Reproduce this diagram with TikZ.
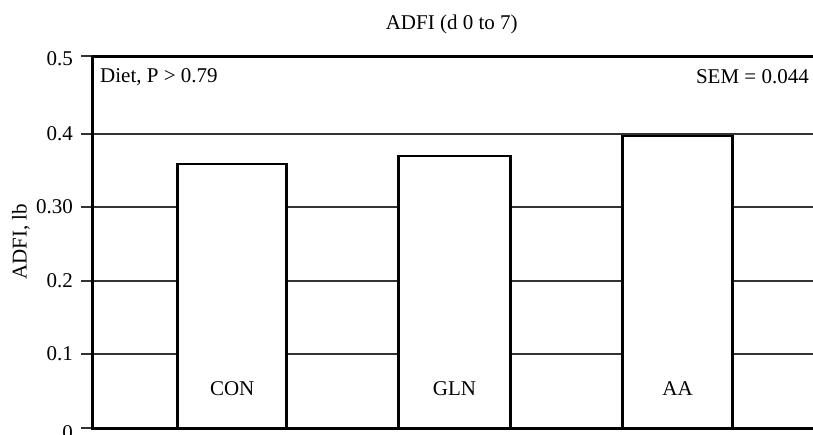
\documentclass[tikz,border=0pt]{standalone}
\usepackage{fontspec}
\setmainfont{Liberation Serif}
\begin{document}
\begin{tikzpicture}[x=1pt,y=-1pt,
  lbl/.style={font=\fontsize{21}{24}\selectfont, inner sep=0pt},
  grid/.style={line width=1.3pt, draw=black!80},
  axis/.style={line width=3pt, draw=black},
  bar/.style={line width=2.6pt, draw=black, fill=white},
  tick/.style={line width=1.3pt, draw=black!80}]
\useasboundingbox (0,0) rectangle (813,434);
\clip (0,0) rectangle (813,434);
% gridlines and ticks
\foreach \yy/\t in {134/0.4, 207/0.30, 281/0.2, 354/0.1}{
  \draw[grid] (81,\yy) -- (813,\yy);
  \node[lbl, anchor=east] at (73,\yy) {\t};
}
\draw[tick] (81,56) -- (92,56);
\draw[tick] (81,428) -- (92,428);
\node[lbl, anchor=east] (l05) at (73,59) {0.5};
\node[lbl, anchor=east] (l0) at (73,433) {0};
% frame
\draw[axis] (92,56) -- (813,56);
\draw[axis] (92,56) -- (92,428) -- (813,428);
% bars
\draw[bar] (177.7,428) rectangle (286.7,164);
\draw[bar] (398.3,428) rectangle (510.7,156);
\draw[bar] (622.7,428) rectangle (732.3,136);
\node[lbl] (con) at (232.2,389) {CON};
\node[lbl] (gln) at (454.5,389) {GLN};
\node[lbl] (aa) at (677.5,389) {AA};
% texts
\node[lbl] (title) at (451.7,24) {ADFI (d 0 to 7)};
\node[lbl, anchor=west] (diet) at (100,77) {Diet, P > 0.79};
\node[lbl, anchor=east] (sem) at (809,77) {SEM = 0.044};
\node[lbl, rotate=90] (ylab) at (21,242) {ADFI, lb};
\end{tikzpicture}
\end{document}
